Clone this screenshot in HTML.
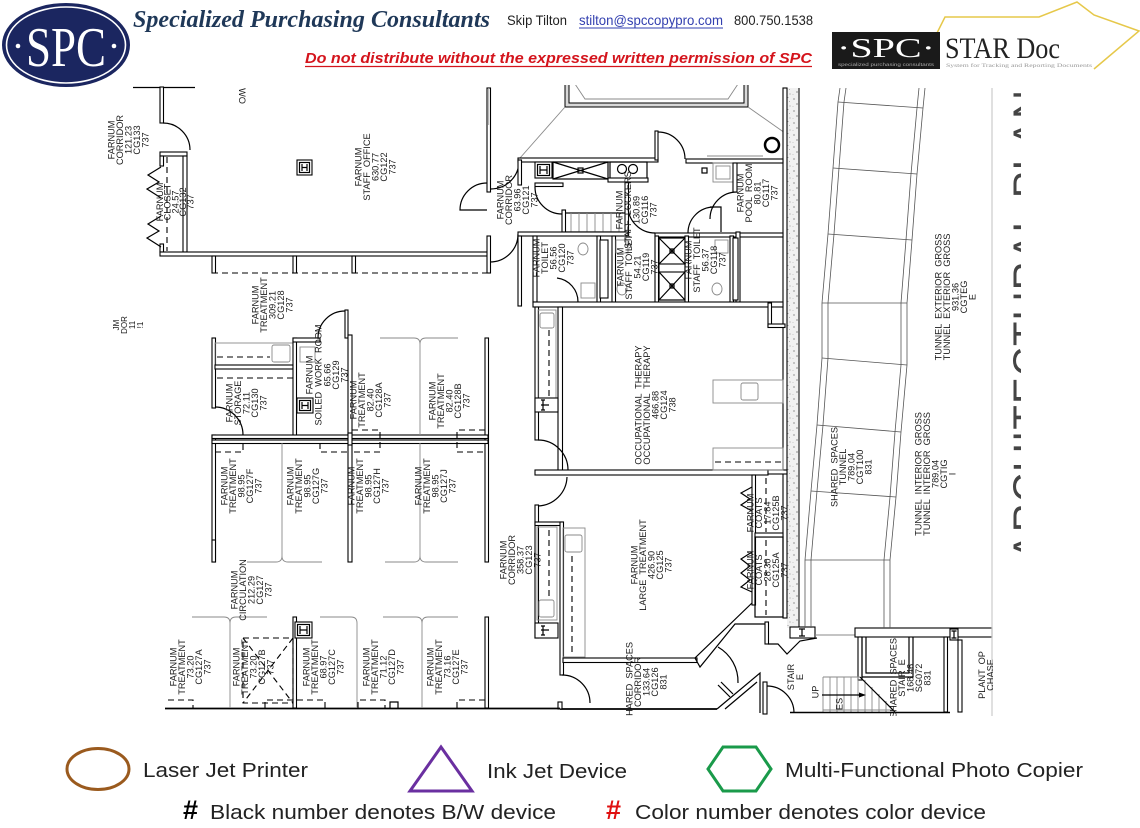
<!DOCTYPE html>
<html><head><meta charset="utf-8"><style>
html,body{margin:0;padding:0;background:#fff;}
svg{display:block;}
.w{fill:#fff;stroke:#000;stroke-width:1.1}
.l{fill:none;stroke:#000;stroke-width:1.2}
.g{fill:none;stroke:#8a8a8a;stroke-width:0.9}
.d{fill:none;stroke:#000;stroke-width:1.1;stroke-dasharray:6 4}
.t{font-family:"Liberation Sans",sans-serif;font-size:9.2px;text-anchor:middle;fill:#1a1a1a;white-space:pre}
</style></head><body>
<svg width="1140" height="828" viewBox="0 0 1140 828" xmlns="http://www.w3.org/2000/svg">
<defs>
<pattern id="st" width="12" height="12" patternUnits="userSpaceOnUse">
<rect width="12" height="12" fill="#f1f1f1"/>
<circle cx="2" cy="3" r=".6" fill="#555"/><circle cx="8" cy="1.5" r=".5" fill="#888"/>
<circle cx="5" cy="8" r=".6" fill="#444"/><circle cx="10" cy="10" r=".5" fill="#777"/>
<circle cx="1" cy="10.5" r=".4" fill="#999"/><circle cx="9.5" cy="5.5" r=".4" fill="#666"/>
</pattern>
<clipPath id="pc"><rect x="100" y="85" width="893" height="631"/></clipPath>
<clipPath id="bc"><rect x="1011" y="85" width="10" height="480"/></clipPath>
</defs>
<rect width="1140" height="828" fill="#fff"/>

<!-- ===== HEADER ===== -->
<ellipse cx="66" cy="45" rx="64" ry="42" fill="#1b2660"/>
<ellipse cx="66" cy="45" rx="59.5" ry="38" fill="none" stroke="#fff" stroke-width="1.6"/>
<text x="66" y="66" font-family="Liberation Serif, serif" font-size="56" fill="#fff" text-anchor="middle" textLength="80" lengthAdjust="spacingAndGlyphs">SPC</text>
<circle cx="18" cy="46" r="2.3" fill="#fff"/><circle cx="114" cy="46" r="2.3" fill="#fff"/>

<text x="133" y="27" font-family="Liberation Serif, serif" font-weight="bold" font-style="italic" font-size="24" fill="#1f3858" textLength="357" lengthAdjust="spacingAndGlyphs">Specialized Purchasing Consultants</text>
<text x="507" y="25" font-family="Liberation Sans, sans-serif" font-size="14" fill="#222" textLength="60" lengthAdjust="spacingAndGlyphs">Skip Tilton</text>
<text x="579" y="25" font-family="Liberation Sans, sans-serif" font-size="14" fill="#3340b0" textLength="144" lengthAdjust="spacingAndGlyphs">stilton@spccopypro.com</text>
<line x1="579" y1="28" x2="723" y2="28" stroke="#3340b0" stroke-width="1"/>
<text x="734" y="25" font-family="Liberation Sans, sans-serif" font-size="14" fill="#222" textLength="79" lengthAdjust="spacingAndGlyphs">800.750.1538</text>
<text x="305" y="63" font-family="Liberation Sans, sans-serif" font-weight="bold" font-style="italic" font-size="15" fill="#d4141c" textLength="507" lengthAdjust="spacingAndGlyphs">Do not distribute without the expressed written permission of SPC</text>
<line x1="305" y1="66.5" x2="812" y2="66.5" stroke="#d4141c" stroke-width="1.2"/>

<polyline points="937,33 945,17 1039,17 1077,2 1094,15 1139,31 1094,69" fill="none" stroke="#e6c84a" stroke-width="1.5"/>
<rect x="832" y="32" width="108" height="37" fill="#1a1a1a"/>
<text x="886" y="57" font-family="Liberation Serif, serif" font-size="27" fill="#fff" text-anchor="middle" textLength="98" lengthAdjust="spacingAndGlyphs">·SPC·</text>
<text x="886" y="66" font-family="Liberation Sans, sans-serif" font-size="4.5" fill="#aaa" text-anchor="middle" textLength="96" lengthAdjust="spacingAndGlyphs">specialized purchasing consultants</text>
<text x="945" y="58" font-family="Liberation Serif, serif" font-size="30" fill="#222" textLength="115" lengthAdjust="spacingAndGlyphs">STAR Doc</text>
<text x="946" y="67" font-family="Liberation Serif, serif" font-size="5" fill="#999" textLength="146" lengthAdjust="spacingAndGlyphs">System for Tracking and Reporting Documents</text>

<!-- ===== PLAN ===== -->
<g clip-path="url(#pc)">
<line class="l" x1="133" y1="87.5" x2="195" y2="87.5"/>
<rect class="w" x="160" y="87" width="3.5" height="36"/>
<path class="l" d="M163,123 A27,27 0 0 1 190,150"/>
<rect class="w" x="160" y="152" width="27" height="4"/>
<rect class="w" x="183" y="156" width="4" height="96"/>
<rect class="w" x="160" y="156" width="3.5" height="10"/>
<rect class="w" x="160" y="244" width="3.5" height="8"/>
<polyline class="l" points="161,167 148,175 159,182 147,189 158,196 161,198"/>
<polyline class="l" points="161,216 148,224 159,231 147,238 158,245 161,247"/>
<line class="d" x1="167" y1="157" x2="167" y2="251"/>
<rect class="w" x="160" y="252" width="330" height="4"/>
<rect class="w" x="212" y="256" width="3.5" height="17"/>
<rect class="w" x="293" y="256" width="3.5" height="17"/>
<rect class="w" x="352" y="256" width="3.5" height="17"/>
<line class="d" x1="212" y1="273" x2="490" y2="273"/>
<rect class="w" x="487" y="88" width="3.5" height="104"/>
<line x1="488.7" y1="88" x2="488.7" y2="125" stroke="#999" stroke-width="0.8"/>
<rect class="w" x="487" y="236" width="3.5" height="37"/>
<path class="l" d="M487,183 A27,27 0 0 0 460,210 H487"/>
<path class="l" d="M490,262 A28,28 0 0 0 518,234"/>
<path class="l" d="M519,161 A28,28 0 0 1 491,189"/>
<rect class="w" x="297" y="160" width="15" height="15"/><rect class="l" x="299.5" y="162.5" width="10" height="10"/>
<path class="l" d="M302,164 V171 M307,164 V171 M302,167.5 H307"/>
<g transform="translate(242,96) rotate(90)"><text class="t" x="0" y="3">WO</text></g>
<g transform="translate(128,325) rotate(-90)"><text class="t" style="font-size:8px"><tspan x="0" y="-9">JM</tspan><tspan x="0" y="-1">DOR</tspan><tspan x="0" y="7">11</tspan><tspan x="0" y="15">!1</tspan></text></g>

<rect x="565" y="84" width="183" height="23" fill="#d8d8d8" stroke="#000" stroke-width="1"/>
<rect x="569" y="84" width="175" height="19" fill="#fff" stroke="#000" stroke-width="1"/>
<polyline class="g" points="575,84 585,99 728,99 738,84"/>
<line class="g" x1="565" y1="107" x2="520" y2="158"/>
<line class="g" x1="748" y1="107" x2="785" y2="133"/>
<circle cx="772" cy="145" r="7" fill="none" stroke="#000" stroke-width="2.5"/>

<rect x="787" y="88" width="12" height="540" fill="url(#st)"/>
<rect class="w" x="783" y="88" width="4" height="530"/>
<line x1="799" y1="88" x2="799" y2="628" stroke="#333" stroke-width="1.3"/>

<rect class="w" x="518" y="158" width="140" height="4"/>
<rect class="w" x="655" y="131" width="3" height="29"/>
<path class="l" d="M658,132 A27,27 0 0 1 685,159"/>
<rect class="w" x="686" y="159" width="97" height="4"/>
<line class="g" x1="707" y1="156" x2="763" y2="156"/>
<rect class="l" x="702" y="168" width="5" height="5"/>
<rect class="g" x="713" y="163" width="20" height="19"/><rect class="g" x="716" y="166" width="14" height="13"/>
<rect class="w" x="535" y="162" width="17" height="16"/><rect class="l" x="537.5" y="164.5" width="12" height="11"/>
<path class="l" d="M540,166 V174 M547,166 V174 M540,170 H547"/>
<rect class="l" x="553" y="162" width="55" height="17"/>
<path class="l" d="M553,162 L608,179 M608,162 L553,179" stroke-width="0.8"/>
<rect class="l" x="578" y="168" width="5" height="5"/>
<rect class="l" x="610" y="162" width="37" height="17"/>
<circle class="l" cx="622" cy="169" r="4.5"/><circle class="l" cx="633" cy="169" r="4.5"/>
<rect class="w" x="608" y="178" width="40" height="4"/>
<rect class="w" x="518" y="160" width="3.5" height="25"/>
<rect class="w" x="535" y="183" width="28" height="3.5"/>
<path class="l" d="M535,187 A27,27 0 0 0 562,214"/>
<rect class="l" x="563" y="213" width="63" height="19"/>
<path class="g" d="M571,213V232M579,213V232M587,213V232M595,213V232M603,213V232M611,213V232M619,213V232"/>
<rect class="w" x="562" y="210" width="3.5" height="22"/>
<rect class="w" x="625" y="182" width="3.5" height="52"/>
<rect class="w" x="518" y="232" width="110" height="4"/>
<rect class="w" x="655" y="233" width="128" height="4"/>
<path class="l" d="M628,206 A27,27 0 0 0 655,233"/>
<path class="l" d="M688,233 A26,26 0 0 1 714,207"/>
<path class="l" d="M737,192 A27,27 0 0 0 710,219"/>
<polyline class="l" points="710,207 721,207 721,232"/>
<rect class="w" x="733" y="163" width="4" height="29"/>
<rect class="w" x="736" y="232" width="4" height="70"/>

<rect class="w" x="518" y="236" width="3.5" height="70"/>
<rect class="w" x="533" y="236" width="4" height="66"/>
<path class="l" d="M557,278 A24,24 0 0 1 578,302"/>
<rect class="w" x="597" y="236" width="3.5" height="67"/>
<rect class="w" x="600" y="240" width="8" height="58"/>
<rect class="w" x="612" y="236" width="3.5" height="67"/>
<rect class="w" x="655" y="236" width="3.5" height="67"/>
<rect class="l" x="659" y="238" width="26" height="62"/>
<path class="l" stroke-width="0.8" d="M659,238 L685,264 M685,238 L659,264 M659,272 L685,300 M685,272 L659,300"/>
<rect class="w" x="659" y="264" width="26" height="8"/>
<rect class="l" x="670" y="249" width="4" height="4"/><rect class="l" x="670" y="284" width="4" height="4"/>
<rect class="w" x="685" y="236" width="3.5" height="67"/>
<rect class="w" x="730" y="236" width="3.5" height="67"/>
<rect class="w" x="733" y="238" width="5" height="62"/>
<ellipse class="g" cx="583" cy="249" rx="5" ry="6"/>
<rect class="g" x="581" y="283" width="14" height="15"/>
<ellipse class="g" cx="622" cy="289" rx="5" ry="6"/>
<rect class="g" x="616" y="240" width="12" height="13"/>
<ellipse class="g" cx="717" cy="289" rx="5" ry="6"/>
<rect class="g" x="715" y="240" width="13" height="13"/>
<rect class="w" x="533" y="302" width="250" height="5"/>

<rect class="w" x="535" y="307" width="3.5" height="133"/>
<rect class="w" x="558" y="307" width="4.5" height="165"/>
<rect class="g" x="538" y="310" width="18" height="88"/>
<line class="d" x1="549" y1="330" x2="549" y2="396"/>
<rect class="g" x="540" y="313" width="14" height="15" rx="2"/>
<rect class="w" x="535" y="398" width="23" height="14"/>
<path class="l" d="M543,400 V410 M541,405 H549 M541,400 H545 M541,410 H545"/>
<path class="l" d="M538,440 A30,30 0 0 1 568,470"/>
<rect class="w" x="535" y="470" width="233" height="5"/>
<rect class="w" x="768" y="303" width="3.5" height="24"/>
<rect class="w" x="768" y="324" width="17" height="3.5"/>
<rect class="w" x="768" y="470" width="19" height="4"/>
<rect class="g" x="713" y="380" width="70" height="23"/>
<rect class="g" x="741" y="383" width="17" height="17" rx="2"/>
<rect class="g" x="713" y="448" width="70" height="22"/>
<line class="d" x1="715" y1="462" x2="783" y2="462"/>

<path class="l" d="M567,477 A30,30 0 0 1 538,506"/>
<rect class="w" x="535" y="505" width="3.5" height="133"/>
<rect class="w" x="535" y="522" width="28" height="3.5"/>
<rect class="w" x="560" y="522" width="3.5" height="153"/>
<rect class="g" x="537" y="527" width="20" height="93"/>
<line class="d" x1="549" y1="530" x2="549" y2="598"/>
<rect class="g" x="539" y="600" width="15" height="17" rx="2"/>
<rect class="w" x="535" y="623" width="23" height="15"/>
<path class="l" d="M543,626 V635 M541,630 H549 M541,626 H545 M541,635 H545"/>
<rect class="g" x="563" y="528" width="22" height="129"/>
<line class="d" x1="572" y1="556" x2="572" y2="655"/>
<rect class="g" x="565" y="535" width="17" height="17" rx="2"/>
<rect class="w" x="563" y="658" width="134" height="4.5"/>
<polyline class="l" points="753,602 695,658 700,667 735,624 767,624"/>
<rect class="w" x="752" y="475" width="3.5" height="130"/>
<rect class="l" x="755" y="537" width="28" height="80"/>
<line class="d" x1="766" y1="540" x2="766" y2="615"/>
<line class="d" x1="766" y1="478" x2="766" y2="532"/>
<rect class="w" x="755" y="533" width="28" height="4"/>
<polyline class="l" points="752,487 741,493 750,499 741,505 752,511"/>
<polyline class="l" points="752,552 741,559 750,566 741,573 750,580 741,587 752,592"/>
<rect class="w" x="765" y="622" width="3.5" height="22"/>
<polyline class="l" points="768,644 778,644 787,654 800,641 817,638"/>

<line x1="560" y1="709" x2="717" y2="709" stroke="#000" stroke-width="1.8"/>
<path class="l" d="M562,675 A28,28 0 0 1 590,703"/>
<rect class="w" x="558" y="702" width="4" height="7"/>
<path class="l" d="M718,647 A40,40 0 0 1 738,683"/>
<line class="l" x1="718" y1="685" x2="730" y2="697"/>
<line class="l" x1="721" y1="682" x2="733" y2="694"/>
<polyline class="l" points="717,709 760,673 760,713"/>
<line class="l" x1="725" y1="709" x2="757" y2="682"/>
<rect class="w" x="763" y="682" width="4" height="32"/>
<path class="l" d="M767,686 A27,27 0 0 1 794,713"/>

<rect class="w" x="790" y="627" width="25" height="11"/>
<path class="l" d="M802,629 V636 M799,629 H805 M799,636 H805"/>
<line class="g" x1="815" y1="635" x2="855" y2="635"/>
<rect class="w" x="855" y="628" width="137" height="9"/>
<rect class="w" x="858" y="637" width="4" height="43"/>
<polyline class="l" points="862,637 862,677 913,677 913,637"/>
<polyline class="l" points="866,637 866,673 909,673 909,637"/>
<rect class="w" x="944" y="637" width="3.5" height="75"/>
<rect class="w" x="958" y="640" width="4" height="72"/>
<rect class="w" x="950" y="629" width="8" height="11"/>
<path class="l" d="M954,631 V638 M951.5,631 H956.5 M951.5,638 H956.5"/>
<path class="g" d="M823,677H860M823,710H893M823,677V712M830,677V712M837,677V712M844,677V712M851,677V712M858,677V712M865,680V712M872,687V712M879,694V712M886,701V712"/>
<line class="l" x1="860" y1="677" x2="895" y2="712"/>
<line class="l" x1="822" y1="695" x2="862" y2="695"/>
<polygon points="866,695 859,692.5 859,697.5" fill="#000"/>
<line x1="790" y1="712.5" x2="950" y2="712.5" stroke="#000" stroke-width="1.5"/>
<line x1="992" y1="88" x2="992" y2="716" stroke="#ccc" stroke-width="1.2"/>

<g fill="none" stroke="#555" stroke-width="0.8">
<polyline points="840,88 838,102 833,168 828,234 822,303 822,358 817,425 811,491 805,560 805,628"/>
<polyline points="846,88 844,102 839,168 834,234 828,303 828,358 823,425 817,491 811,560 811,628"/>
<polyline points="919,88 917,108 911,174 906,240 901,303 901,365 895,432 890,497 884,560 884,628"/>
<polyline points="925,88 923,108 917,174 912,240 907,303 907,365 901,432 896,497 890,560 890,628"/>
<line x1="838" y1="102" x2="923" y2="108"/>
<line x1="833" y1="168" x2="917" y2="174"/>
<line x1="828" y1="234" x2="912" y2="240"/>
<line x1="822" y1="303" x2="907" y2="303"/>
<line x1="822" y1="358" x2="907" y2="365"/>
<line x1="817" y1="425" x2="901" y2="432"/>
<line x1="811" y1="491" x2="896" y2="497"/>
<line x1="805" y1="560" x2="890" y2="560"/>
</g>

<rect class="w" x="212" y="338" width="3.5" height="70"/>
<rect class="w" x="212" y="435" width="3.5" height="127"/>
<path class="l" d="M215,407 A28,28 0 0 1 243,435"/>
<rect class="g" x="215" y="343" width="78" height="22"/>
<line class="d" x1="217" y1="357" x2="270" y2="357"/>
<rect class="g" x="272" y="345" width="18" height="17" rx="2"/>
<rect class="w" x="215" y="365" width="78" height="4"/>
<line class="d" x1="217" y1="378" x2="293" y2="378"/>
<rect class="w" x="293" y="338" width="3.5" height="100"/>
<rect class="w" x="293" y="338" width="27" height="4"/>
<rect class="w" x="345" y="310" width="3" height="28"/>
<path class="l" d="M345,311 A27,27 0 0 0 318,338"/>
<rect class="g" x="300" y="347" width="15" height="15"/>
<rect class="w" x="297" y="398" width="16" height="15"/><rect class="l" x="299.5" y="400.5" width="11" height="10"/>
<path class="l" d="M302,402 V409 M308,402 V409 M302,405.5 H308"/>
<rect class="w" x="348" y="335" width="4" height="227"/>
<rect class="w" x="485" y="338" width="3.5" height="224"/>
<rect class="w" x="212" y="435" width="276" height="3.5"/>
<rect class="w" x="212" y="440" width="276" height="3.5"/>
<rect class="w" x="348" y="433" width="4" height="12"/>
<path class="g" d="M380,338 H414 Q420,338 420,344 Q420,338 426,338 H458 M420,344 V435"/>
<path class="g" d="M247,562 H276 Q282,562 282,556 Q282,562 288,562 H322 M282,556 V443"/>
<path class="g" d="M385,562 H414 Q420,562 420,556 Q420,562 426,562 H458 M420,556 V443"/>
<polyline class="d" points="215,452 243,452 243,443"/>
<polyline class="d" points="320,443 320,452 348,452"/>
<polyline class="d" points="352,430 380,430 380,452 352,452"/>
<polyline class="d" points="485,430 457,430 457,452 485,452"/>

<rect class="w" x="212" y="540" width="3.5" height="22"/>
<rect class="w" x="293" y="617" width="3.5" height="91"/>
<rect class="w" x="485" y="617" width="3.5" height="91"/>
<line x1="165" y1="708.5" x2="560" y2="708.5" stroke="#000" stroke-width="1.8"/>
<path class="g" d="M192,617 H224 Q230,617 230,623 Q230,617 236,617 H267 M230,623 V708"/>
<path class="g" d="M320,617 H351 Q357,617 357,623 V708"/>
<path class="g" d="M383,617 H416 Q422,617 422,623 Q422,617 428,617 H458 M422,623 V708"/>
<rect class="w" x="295" y="622" width="17" height="16"/><rect class="l" x="297.5" y="624.5" width="12" height="11"/>
<path class="l" d="M300,626 V634 M307,626 V634 M300,630 H307"/>
<rect class="d" x="243" y="638" width="50" height="65"/>
<path class="d" d="M243,638 L293,703 M293,638 L243,703"/>
<polyline class="d" points="168,700 193,700 193,708"/>
<polyline class="d" points="265,708 265,700 293,700"/>
<polyline class="d" points="297,700 325,700 325,708"/>
<polyline class="d" points="358,708 358,700 385,700 385,708"/>
<polyline class="l" points="390,708 390,702 398,702 398,708"/>
<polyline class="d" points="457,708 457,700 485,700"/>

<!-- ===== LABELS ===== -->
<g transform="translate(128,140) rotate(-90)"><text class="t"><tspan x="0" y="-13.7">FARNUM</tspan><tspan x="0" y="-5.2">CORRIDOR</tspan><tspan x="0" y="3.3">121.23</tspan><tspan x="0" y="11.8">CG133</tspan><tspan x="0" y="20.3">737</tspan></text></g>
<g transform="translate(175,202) rotate(-90)"><text class="t"><tspan x="0" y="-12">FARNUM</tspan><tspan x="0" y="-4.4">CLOSET</tspan><tspan x="0" y="3.3">24.57</tspan><tspan x="0" y="11">CG132</tspan><tspan x="0" y="18.6">737</tspan></text></g>
<g transform="translate(375,167) rotate(-90)"><text class="t"><tspan x="0" y="-13.7">FARNUM</tspan><tspan x="0" y="-5.2">STAFF  OFFICE</tspan><tspan x="0" y="3.3">630.77</tspan><tspan x="0" y="11.8">CG122</tspan><tspan x="0" y="20.3">737</tspan></text></g>
<g transform="translate(517,200) rotate(-90)"><text class="t"><tspan x="0" y="-13.7">FARNUM</tspan><tspan x="0" y="-5.2">CORRIDOR</tspan><tspan x="0" y="3.3">63.96</tspan><tspan x="0" y="11.8">CG121</tspan><tspan x="0" y="20.3">737</tspan></text></g>
<g transform="translate(636,210) rotate(-90)"><text class="t"><tspan x="0" y="-13.7">FARNUM</tspan><tspan x="0" y="-5.2">STAFF  LOCKERS</tspan><tspan x="0" y="3.3">130.89</tspan><tspan x="0" y="11.8">CG116</tspan><tspan x="0" y="20.3">737</tspan></text></g>
<g transform="translate(757,193) rotate(-90)"><text class="t"><tspan x="0" y="-13.7">FARNUM</tspan><tspan x="0" y="-5.2">POOL  ROOM</tspan><tspan x="0" y="3.3">80.81</tspan><tspan x="0" y="11.8">CG117</tspan><tspan x="0" y="20.3">737</tspan></text></g>
<g transform="translate(553,258) rotate(-90)"><text class="t"><tspan x="0" y="-13.7">FARNUM</tspan><tspan x="0" y="-5.2">TOILET</tspan><tspan x="0" y="3.3">56.56</tspan><tspan x="0" y="11.8">CG120</tspan><tspan x="0" y="20.3">737</tspan></text></g>
<g transform="translate(637,267) rotate(-90)"><text class="t"><tspan x="0" y="-13.7">FARNUM</tspan><tspan x="0" y="-5.2">STAFF  TOILET</tspan><tspan x="0" y="3.3">54.21</tspan><tspan x="0" y="11.8">CG119</tspan><tspan x="0" y="20.3">737</tspan></text></g>
<g transform="translate(705,260) rotate(-90)"><text class="t"><tspan x="0" y="-13.7">FARNUM</tspan><tspan x="0" y="-5.2">STAFF  TOILET</tspan><tspan x="0" y="3.3">56.37</tspan><tspan x="0" y="11.8">CG118</tspan><tspan x="0" y="20.3">737</tspan></text></g>
<g transform="translate(272,305) rotate(-90)"><text class="t"><tspan x="0" y="-13.7">FARNUM</tspan><tspan x="0" y="-5.2">TREATMENT</tspan><tspan x="0" y="3.3">309.21</tspan><tspan x="0" y="11.8">CG128</tspan><tspan x="0" y="20.3">737</tspan></text></g>
<g transform="translate(327,375) rotate(-90)"><text class="t"><tspan x="0" y="-14.7">FARNUM</tspan><tspan x="0" y="-5.7">SOILED  WORK  ROOM</tspan><tspan x="0" y="3.3">65.66</tspan><tspan x="0" y="12">CG129</tspan><tspan x="0" y="20.7">737</tspan></text></g>
<g transform="translate(246,403) rotate(-90)"><text class="t"><tspan x="0" y="-13.7">FARNUM</tspan><tspan x="0" y="-5.2">STORAGE</tspan><tspan x="0" y="3.3">72.11</tspan><tspan x="0" y="11.8">CG130</tspan><tspan x="0" y="20.3">737</tspan></text></g>
<g transform="translate(370,400) rotate(-90)"><text class="t"><tspan x="0" y="-13.7">FARNUM</tspan><tspan x="0" y="-5.2">TREATMENT</tspan><tspan x="0" y="3.3">82.40</tspan><tspan x="0" y="11.8">CG128A</tspan><tspan x="0" y="20.3">737</tspan></text></g>
<g transform="translate(449,401) rotate(-90)"><text class="t"><tspan x="0" y="-13.7">FARNUM</tspan><tspan x="0" y="-5.2">TREATMENT</tspan><tspan x="0" y="3.3">82.40</tspan><tspan x="0" y="11.8">CG128B</tspan><tspan x="0" y="20.3">737</tspan></text></g>
<g transform="translate(241,486) rotate(-90)"><text class="t"><tspan x="0" y="-13.7">FARNUM</tspan><tspan x="0" y="-5.2">TREATMENT</tspan><tspan x="0" y="3.3">98.95</tspan><tspan x="0" y="11.8">CG127F</tspan><tspan x="0" y="20.3">737</tspan></text></g>
<g transform="translate(307,486) rotate(-90)"><text class="t"><tspan x="0" y="-13.7">FARNUM</tspan><tspan x="0" y="-5.2">TREATMENT</tspan><tspan x="0" y="3.3">98.95</tspan><tspan x="0" y="11.8">CG127G</tspan><tspan x="0" y="20.3">737</tspan></text></g>
<g transform="translate(368,486) rotate(-90)"><text class="t"><tspan x="0" y="-13.7">FARNUM</tspan><tspan x="0" y="-5.2">TREATMENT</tspan><tspan x="0" y="3.3">98.95</tspan><tspan x="0" y="11.8">CG127H</tspan><tspan x="0" y="20.3">737</tspan></text></g>
<g transform="translate(435,486) rotate(-90)"><text class="t"><tspan x="0" y="-13.7">FARNUM</tspan><tspan x="0" y="-5.2">TREATMENT</tspan><tspan x="0" y="3.3">98.95</tspan><tspan x="0" y="11.8">CG127J</tspan><tspan x="0" y="20.3">737</tspan></text></g>
<g transform="translate(251,590) rotate(-90)"><text class="t"><tspan x="0" y="-13.7">FARNUM</tspan><tspan x="0" y="-5.2">CIRCULATION</tspan><tspan x="0" y="3.3">212.29</tspan><tspan x="0" y="11.8">CG127</tspan><tspan x="0" y="20.3">737</tspan></text></g>
<g transform="translate(190,667) rotate(-90)"><text class="t"><tspan x="0" y="-13.7">FARNUM</tspan><tspan x="0" y="-5.2">TREATMENT</tspan><tspan x="0" y="3.3">73.20</tspan><tspan x="0" y="11.8">CG127A</tspan><tspan x="0" y="20.3">737</tspan></text></g>
<g transform="translate(253,667) rotate(-90)"><text class="t"><tspan x="0" y="-13.7">FARNUM</tspan><tspan x="0" y="-5.2">TREATMENT</tspan><tspan x="0" y="3.3">73.20</tspan><tspan x="0" y="11.8">CG127B</tspan><tspan x="0" y="20.3">737</tspan></text></g>
<g transform="translate(323,667) rotate(-90)"><text class="t"><tspan x="0" y="-13.7">FARNUM</tspan><tspan x="0" y="-5.2">TREATMENT</tspan><tspan x="0" y="3.3">68.97</tspan><tspan x="0" y="11.8">CG127C</tspan><tspan x="0" y="20.3">737</tspan></text></g>
<g transform="translate(383,667) rotate(-90)"><text class="t"><tspan x="0" y="-13.7">FARNUM</tspan><tspan x="0" y="-5.2">TREATMENT</tspan><tspan x="0" y="3.3">71.12</tspan><tspan x="0" y="11.8">CG127D</tspan><tspan x="0" y="20.3">737</tspan></text></g>
<g transform="translate(447,667) rotate(-90)"><text class="t"><tspan x="0" y="-13.7">FARNUM</tspan><tspan x="0" y="-5.2">TREATMENT</tspan><tspan x="0" y="3.3">73.16</tspan><tspan x="0" y="11.8">CG127E</tspan><tspan x="0" y="20.3">737</tspan></text></g>
<g transform="translate(520,560) rotate(-90)"><text class="t"><tspan x="0" y="-13.7">FARNUM</tspan><tspan x="0" y="-5.2">CORRIDOR</tspan><tspan x="0" y="3.3">358.37</tspan><tspan x="0" y="11.8">CG123</tspan><tspan x="0" y="20.3">737</tspan></text></g>
<g transform="translate(651,565) rotate(-90)"><text class="t"><tspan x="0" y="-13.7">FARNUM</tspan><tspan x="0" y="-5.2">LARGE  TREATMENT</tspan><tspan x="0" y="3.3">426.90</tspan><tspan x="0" y="11.8">CG125</tspan><tspan x="0" y="20.3">737</tspan></text></g>
<g transform="translate(646,682) rotate(-90)"><text class="t"><tspan x="0" y="-13.7">SHARED  SPACES</tspan><tspan x="0" y="-5.2">CORRIDOR</tspan><tspan x="0" y="3.3">133.64</tspan><tspan x="0" y="11.8">CG126</tspan><tspan x="0" y="20.3">831</tspan></text></g>
<g transform="translate(767,513) rotate(-90)"><text class="t"><tspan x="0" y="-13.7">FARNUM</tspan><tspan x="0" y="-5.2">COATS</tspan><tspan x="0" y="3.3">17.84</tspan><tspan x="0" y="11.8">CG125B</tspan><tspan x="0" y="20.3">737</tspan></text></g>
<g transform="translate(767,570) rotate(-90)"><text class="t"><tspan x="0" y="-13.7">FARNUM</tspan><tspan x="0" y="-5.2">COATS</tspan><tspan x="0" y="3.3">28.30</tspan><tspan x="0" y="11.8">CG125A</tspan><tspan x="0" y="20.3">737</tspan></text></g>
<g transform="translate(655,405) rotate(-90)"><text class="t"><tspan x="0" y="-13.7">OCCUPATIONAL  THERAPY</tspan><tspan x="0" y="-5.2">OCCUPATIONAL  THERAPY</tspan><tspan x="0" y="3.3">466.88</tspan><tspan x="0" y="11.8">CG124</tspan><tspan x="0" y="20.3">738</tspan></text></g>
<g transform="translate(795,677) rotate(-90)"><text class="t"><tspan x="0" y="-1">STAIR</tspan><tspan x="0" y="8">E</tspan></text></g>
<g transform="translate(815,692) rotate(-90)"><text class="t" x="0" y="3.3">UP</text></g>
<g transform="translate(839,704) rotate(-90)"><text class="t" x="0" y="3.3">ES</text></g>
<g transform="translate(851,467) rotate(-90)"><text class="t"><tspan x="0" y="-13.7">SHARED  SPACES</tspan><tspan x="0" y="-5.2">TUNNEL</tspan><tspan x="0" y="3.3">789.04</tspan><tspan x="0" y="11.8">CGT100</tspan><tspan x="0" y="20.3">831</tspan></text></g>
<g transform="translate(935,474) rotate(-90)"><text class="t"><tspan x="0" y="-13.7">TUNNEL  INTERIOR  GROSS</tspan><tspan x="0" y="-5.2">TUNNEL  INTERIOR  GROSS</tspan><tspan x="0" y="3.3">789.04</tspan><tspan x="0" y="11.8">CGTIG</tspan><tspan x="0" y="20.3">I</tspan></text></g>
<g transform="translate(955,297) rotate(-90)"><text class="t"><tspan x="0" y="-13.7">TUNNEL  EXTERIOR  GROSS</tspan><tspan x="0" y="-5.2">TUNNEL  EXTERIOR  GROSS</tspan><tspan x="0" y="3.3">931.36</tspan><tspan x="0" y="11.8">CGTEG</tspan><tspan x="0" y="20.3">E</tspan></text></g>
<g transform="translate(910,678) rotate(-90)"><text class="t"><tspan x="0" y="-13.7">SHARED  SPACES</tspan><tspan x="0" y="-5.2">STAIR  E</tspan><tspan x="0" y="3.3">168.46</tspan><tspan x="0" y="11.8">SG072</tspan><tspan x="0" y="20.3">831</tspan></text></g>
<g transform="translate(986,675) rotate(-90)"><text class="t"><tspan x="0" y="-1">PLANT  OP</tspan><tspan x="0" y="7.6">CHASE</tspan></text></g>
</g>

<!-- big clipped title letters -->
<g clip-path="url(#bc)">
<text transform="translate(1041,560) rotate(-90)" font-family="Liberation Sans, sans-serif" font-size="40" fill="#444" textLength="470" lengthAdjust="spacing">ARCHITECTURAL PLAN</text>
</g>

<!-- ===== LEGEND ===== -->
<ellipse cx="98" cy="769" rx="31" ry="20.5" fill="none" stroke="#9a5a1e" stroke-width="3"/>
<text x="143" y="777" font-family="Liberation Sans, sans-serif" font-size="20" fill="#222" textLength="165" lengthAdjust="spacingAndGlyphs">Laser Jet Printer</text>
<polygon points="441,747 472,791 410,791" fill="none" stroke="#6a2fa0" stroke-width="3"/>
<text x="487" y="778" font-family="Liberation Sans, sans-serif" font-size="20" fill="#222" textLength="140" lengthAdjust="spacingAndGlyphs">Ink Jet Device</text>
<polygon points="723,747 756,747 771,769 756,791 723,791 708,769" fill="none" stroke="#1a9a4a" stroke-width="3"/>
<text x="785" y="777" font-family="Liberation Sans, sans-serif" font-size="20" fill="#222" textLength="298" lengthAdjust="spacingAndGlyphs">Multi-Functional Photo Copier</text>
<text x="183" y="819" font-family="Liberation Sans, sans-serif" font-weight="bold" font-size="27" fill="#000">#</text>
<text x="210" y="819" font-family="Liberation Sans, sans-serif" font-size="20" fill="#222" textLength="346" lengthAdjust="spacingAndGlyphs">Black number denotes B/W device</text>
<text x="606" y="819" font-family="Liberation Sans, sans-serif" font-weight="bold" font-size="27" fill="#e01010">#</text>
<text x="635" y="819" font-family="Liberation Sans, sans-serif" font-size="20" fill="#222" textLength="351" lengthAdjust="spacingAndGlyphs">Color number denotes color device</text>
</svg>
</body></html>
